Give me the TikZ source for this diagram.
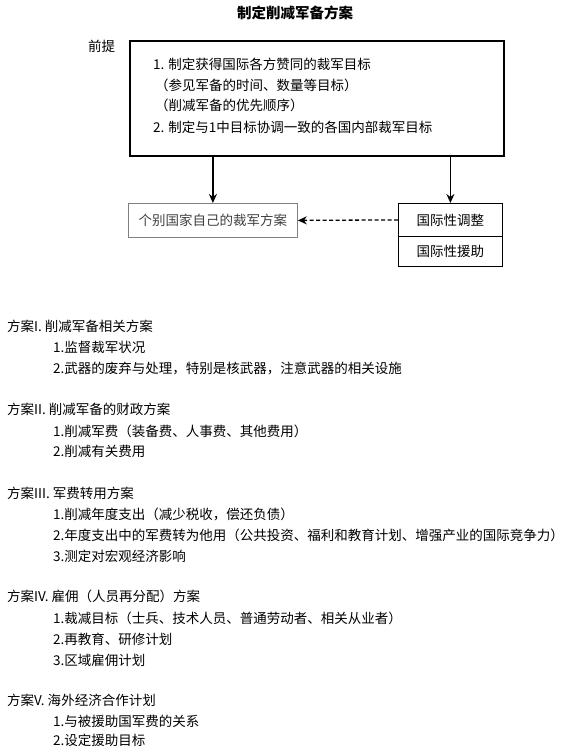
\documentclass[tikz,border=0pt]{standalone}
\usepackage{fontspec}
\setmainfont{Noto Sans CJK SC}
\usetikzlibrary{arrows.meta}
\begin{document}
\begin{tikzpicture}[x=1pt,y=-1pt,
  txt/.style={anchor=west,inner sep=0pt,text height=10.5pt,text depth=2pt,font=\fontsize{13.5}{16}\selectfont},
  boxa/.style={draw,line width=1.5pt,inner sep=0pt},
  boxb/.style={draw,line width=0.8pt,inner sep=0pt,font=\fontsize{13.5}{16}\selectfont},
  arr/.style={line width=1.5pt,-{Stealth[length=9pt,width=8pt]}},
  darr/.style={line width=1.3pt,dash pattern=on 4pt off 2.5pt,-{Stealth[length=9pt,width=8pt]}}]
\useasboundingbox (0,0) rectangle (566,748);
\node[font=\fontsize{14.5}{16}\selectfont\bfseries] (title) at (295,13) {制定削减军备方案};
\node[txt] (prem) at (88,47) {前提};
\node[boxa,anchor=north west,minimum width=374pt,minimum height=115pt] (main) at (129,40) {};
\node[txt] (m1) at (153,65) {1. 制定获得国际各方赞同的裁军目标};
\node[txt] (m2) at (155,86) {（参见军备的时间、数量等目标）};
\node[txt] (m3) at (155,106) {（削减军备的优先顺序）};
\node[txt] (m4) at (153,128) {2. 制定与1中目标协调一致的各国内部裁军目标};
\node[boxb,draw=gray,text=black!75,anchor=north west,minimum width=169pt,minimum height=34pt] (lb) at (128,203) {个别国家自己的裁军方案};
\node[boxb,anchor=north west,minimum width=104pt,minimum height=33pt] (rb1) at (398,203) {国际性调整};
\node[boxb,anchor=north west,minimum width=104pt,minimum height=30pt] (rb2) at (398,236) {国际性援助};
\draw[arr] (main.south -| lb.north) -- (lb.north);
\draw[arr] (main.south -| rb1.north) -- (rb1.north);
\draw[darr] (rb1.west) -- (lb.east);
% plans
\node[txt] (p1) at (7,327) {方案I. 削减军备相关方案};
\node[txt] (p11) at (53,348) {1.监督裁军状况};
\node[txt] (p12) at (53,369) {2.武器的废弃与处理，特别是核武器，注意武器的相关设施};
\node[txt] (p2) at (7,410) {方案II. 削减军备的财政方案};
\node[txt] (p21) at (53,432) {1.削减军费（装备费、人事费、其他费用）};
\node[txt] (p22) at (53,452) {2.削减有关费用};
\node[txt] (p3) at (7,494) {方案III. 军费转用方案};
\node[txt] (p31) at (53,515) {1.削减年度支出（减少税收，偿还负债）};
\node[txt] (p32) at (53,536) {2.年度支出中的军费转为他用（公共投资、福利和教育计划、增强产业的国际竞争力）};
\node[txt] (p33) at (53,557) {3.测定对宏观经济影响};
\node[txt] (p4) at (7,597) {方案IV. 雇佣（人员再分配）方案};
\node[txt] (p41) at (53,619) {1.裁减目标（士兵、技术人员、普通劳动者、相关从业者）};
\node[txt] (p42) at (53,640) {2.再教育、研修计划};
\node[txt] (p43) at (53,661) {3.区域雇佣计划};
\node[txt] (p5) at (7,701) {方案V. 海外经济合作计划};
\node[txt] (p51) at (53,722) {1.与被援助国军费的关系};
\node[txt] (p52) at (53,741) {2.设定援助目标};
\end{tikzpicture}
\end{document}
